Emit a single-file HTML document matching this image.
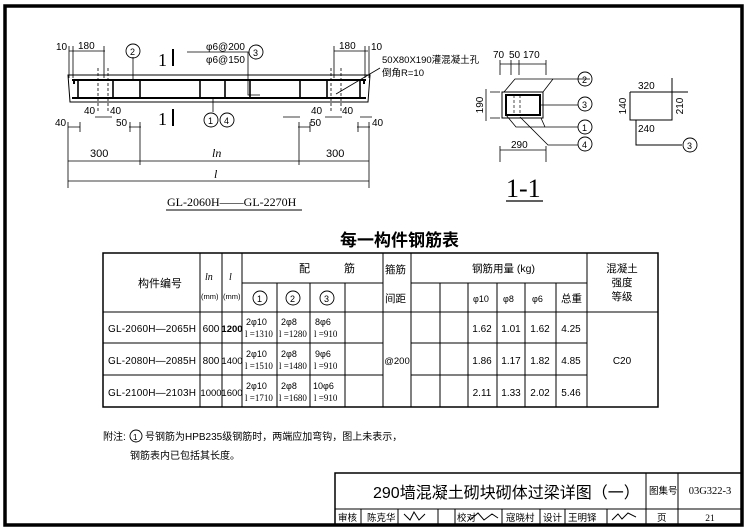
<!DOCTYPE html>
<html><head><meta charset="utf-8"><style>
html,body{margin:0;padding:0;background:#fff;}
svg{display:block;}
text{font-family:"Liberation Sans","Noto Sans CJK SC",sans-serif;fill:#000;}
.s{font-family:"Liberation Serif","Noto Serif CJK SC",serif;}
</style></head><body>
<svg width="751" height="531" viewBox="0 0 751 531" xmlns="http://www.w3.org/2000/svg">
<g fill="none" stroke="#000">
<rect x="5" y="6" width="737" height="519" stroke-width="3.5"/>

<path d="M68 75 L370 75 L368 102 L70 102 Z" stroke-width="1"/>
<path d="M72 80 H366 M72 98 H366" stroke-width="2"/>
<path d="M74 80 v4 M364 80 v4" stroke-width="2"/>
<path d="M78 80V98 M113 80V98 M140 80V98 M200 80V98 M225 80V98 M250 80V98 M300 80V98 M327 80V98 M360 80V98" stroke-width="1.6"/>
<path d="M98 68V112 M108 68V112 M331 68V112 M341 68V112" stroke-width="0.8" stroke-dasharray="3,2"/>
<path d="M133 57 L133 80" stroke-width="0.8"/>
<path d="M187 52 L248 52 L248 95 L260 95" stroke-width="0.8"/>
<path d="M213 98 L213 112" stroke-width="0.8"/>
<path d="M336 94 L380 68" stroke-width="0.8"/>
<circle cx="133" cy="51" r="7" stroke-width="0.9"/>
<circle cx="256" cy="52" r="7" stroke-width="0.9"/>
<circle cx="211" cy="120" r="7" stroke-width="0.9"/>
<circle cx="227" cy="120" r="7" stroke-width="0.9"/>
<path d="M69 51 H105 M69 46 V78 M73 46 V78 M104 46 V78" stroke-width="0.8"/>
<path d="M334 51 H368 M334 46 V78 M365 46 V78 M369 46 V78" stroke-width="0.8"/>
<path d="M95 117 H112 M283 117 H300 M325 117 H342 M360 117 H372" stroke-width="0.8"/>
<path d="M68 127 H80 M129 127 H141 M298 127 H310 M357 127 H370" stroke-width="0.8"/>
<path d="M68 122 V188 M80 122 V132 M130 122 V132 M140 122 V165 M299 122 V165 M310 122 V132 M358 122 V132 M369 122 V188" stroke-width="0.8"/>
<path d="M68 161 H369 M68 181 H369" stroke-width="0.8"/>
<path d="M166 210 H302" stroke-width="1"/>
<path d="M173 49 V66 M173 109 V126" stroke-width="2"/>

<rect x="502" y="92" width="41" height="26" stroke-width="1"/>
<rect x="506" y="95" width="34" height="20" stroke-width="2"/>
<path d="M514 95 V115 M520 95 V115" stroke-width="0.7" stroke-dasharray="3,2"/>
<path d="M504 92 L515 79 L590 79 M543 92 L553 79 M506 115 L516 127 L578 127 M541 118 L545 127 M520 117 L548 145 L578 145 M540 105 L578 105" stroke-width="0.8"/>
<path d="M490 92 H500 M490 118 H500 M486 89 V121 M500 60 V75 M511 60 V75 M519 60 V75 M546 60 V75 M500 64 H546 M500 150 H546 M500 146 V162 M546 146 V162" stroke-width="0.8"/>
<circle cx="585" cy="79" r="7" stroke-width="0.9"/>
<circle cx="585" cy="104" r="7" stroke-width="0.9"/>
<circle cx="585" cy="127" r="7" stroke-width="0.9"/>
<circle cx="585" cy="144" r="7" stroke-width="0.9"/>
<path d="M506 201 H543" stroke-width="1.2"/>
<path d="M630 92 V120 H672 V78 M630 92 H688 M636 120 V145 H682" stroke-width="1"/>
<circle cx="690" cy="145" r="7" stroke-width="0.9"/>

<rect x="103" y="253" width="555" height="154" stroke-width="1.5"/>
<path d="M103 312 H658 M103 343 H383 M411 343 H587 M103 375 H383 M411 375 H587 M242 283 H383 M411 283 H587" stroke-width="1"/>
<path d="M200 253V407 M222 253V407 M242 253V407 M277 283V407 M310 283V407 M345 283V407 M383 253V407 M411 253V407 M440 283V407 M468 283V407 M497 283V407 M525 283V407 M556 283V407 M587 253V407" stroke-width="1"/>
<circle cx="260" cy="298" r="7" stroke-width="0.9"/>
<circle cx="293" cy="298" r="7" stroke-width="0.9"/>
<circle cx="327" cy="298" r="7" stroke-width="0.9"/>
<circle cx="136" cy="436" r="6" stroke-width="0.9"/>

<rect x="335" y="473" width="407" height="52" stroke-width="1.5"/>
<path d="M335 509 H742 M646 473 V525 M678 473 V525 M361 509V525 M398 509V525 M438 509V525 M455 509V525 M502 509V525 M540 509V525 M565 509V525 M607 509V525" stroke-width="1"/>
<path d="M404 514 l6 6 l4 -8 l5 8 l6 -6 M470 520 l8 -7 l6 7 l8 -6 l6 4 M612 520 l6 -6 l4 5 l6 -6 l8 4" stroke-width="1"/>
</g>

<g font-size="10">
<text x="56" y="50">10</text><text x="78" y="49">180</text>
<text x="339" y="49">180</text><text x="371" y="50">10</text>
<text x="206" y="50">φ6@200</text><text x="206" y="63">φ6@150</text>
<text x="382" y="63" font-size="9.5">50X80X190灌混凝土孔</text>
<text x="382" y="76" font-size="9.5">倒角R=10</text>
<text x="130" y="55" font-size="9">2</text><text x="253" y="56" font-size="9">3</text>
<text x="208" y="124" font-size="9">1</text><text x="224" y="124" font-size="9">4</text>
<text x="84" y="114">40</text><text x="110" y="114">40</text>
<text x="311" y="114">40</text><text x="342" y="114">40</text>
<text x="55" y="126">40</text><text x="116" y="126">50</text>
<text x="310" y="126">50</text><text x="372" y="126">40</text>
<text x="90" y="157" font-size="11">300</text><text x="326" y="157" font-size="11">300</text>
<text x="212" y="157" font-size="12" class="s" font-style="italic">ln</text>
<text x="214" y="178" font-size="12" class="s" font-style="italic">l</text>
<text x="167" y="206" font-size="12" class="s">GL-2060H——GL-2270H</text>
<text x="158" y="66" font-size="18" class="s">1</text>
<text x="158" y="125" font-size="18" class="s">1</text>
<text x="493" y="58">70</text><text x="509" y="58">50</text><text x="523" y="58">170</text>
<text x="483" y="105" text-anchor="middle" transform="rotate(-90 483 105)">190</text>
<text x="511" y="148">290</text>
<text x="582" y="83" font-size="9">2</text><text x="582" y="108" font-size="9">3</text>
<text x="582" y="131" font-size="9">1</text><text x="582" y="148" font-size="9">4</text>
<text x="506" y="197" font-size="26" class="s">1-1</text>
<text x="638" y="89">320</text>
<text x="626" y="106" text-anchor="middle" transform="rotate(-90 626 106)">140</text>
<text x="683" y="106" text-anchor="middle" transform="rotate(-90 683 106)">210</text>
<text x="638" y="132">240</text>
<text x="687" y="149" font-size="9">3</text>

<text x="340" y="246" font-size="17" font-weight="bold">每一构件钢筋表</text>
<text x="138" y="287" font-size="11">构件编号</text>
<text x="205" y="280" class="s" font-style="italic">ln</text><text x="229" y="280" class="s" font-style="italic">l</text>
<text x="201" y="299" font-size="7.5">(mm)</text><text x="223" y="299" font-size="7.5">(mm)</text>
<text x="299" y="272" font-size="11">配</text><text x="344" y="272" font-size="11">筋</text>
<text x="385" y="273" font-size="10.5">箍筋</text><text x="385" y="302" font-size="10.5">间距</text>
<text x="472" y="272" font-size="10.5">钢筋用量 (kg)</text>
<text x="622" y="272" font-size="10.5" text-anchor="middle">混凝土</text>
<text x="622" y="286" font-size="10.5" text-anchor="middle">强度</text>
<text x="622" y="300" font-size="10.5" text-anchor="middle">等级</text>
<text x="257" y="302" font-size="9">1</text><text x="290" y="302" font-size="9">2</text><text x="324" y="302" font-size="9">3</text>
<text x="473" y="302" font-size="9">φ10</text><text x="503" y="302" font-size="9">φ8</text><text x="532" y="302" font-size="9">φ6</text>
<text x="561" y="302" font-size="10.5">总重</text>
<g class="s" font-size="10">
<text x="108" y="332" textLength="88">GL-2060H—2065H</text>
<text x="108" y="364" textLength="88">GL-2080H—2085H</text>
<text x="108" y="396" textLength="88">GL-2100H—2103H</text>
<text x="211" y="332" text-anchor="middle">600</text><text x="232" y="332" font-weight="bold" text-anchor="middle" font-size="9.5">1200</text>
<text x="211" y="364" text-anchor="middle">800</text><text x="232" y="364" text-anchor="middle" font-size="9.5">1400</text>
<text x="211" y="396" text-anchor="middle" font-size="9.5">1000</text><text x="232" y="396" text-anchor="middle" font-size="9.5">1600</text>
<text x="482" y="332" text-anchor="middle">1.62</text><text x="511" y="332" text-anchor="middle">1.01</text><text x="540" y="332" text-anchor="middle">1.62</text><text x="571" y="332" text-anchor="middle">4.25</text>
<text x="482" y="364" text-anchor="middle">1.86</text><text x="511" y="364" text-anchor="middle">1.17</text><text x="540" y="364" text-anchor="middle">1.82</text><text x="571" y="364" text-anchor="middle">4.85</text>
<text x="482" y="396" text-anchor="middle">2.11</text><text x="511" y="396" text-anchor="middle">1.33</text><text x="540" y="396" text-anchor="middle">2.02</text><text x="571" y="396" text-anchor="middle">5.46</text>
<text x="622" y="364" text-anchor="middle">C20</text>
</g>
<g font-size="9">
<text x="246" y="325">2φ10</text><text x="245" y="337" class="s">l =1310</text>
<text x="281" y="325">2φ8</text><text x="279" y="337" class="s">l =1280</text>
<text x="315" y="325">8φ6</text><text x="314" y="337" class="s">l =910</text>
<text x="246" y="357">2φ10</text><text x="245" y="369" class="s">l =1510</text>
<text x="281" y="357">2φ8</text><text x="279" y="369" class="s">l =1480</text>
<text x="315" y="357">9φ6</text><text x="314" y="369" class="s">l =910</text>
<text x="246" y="389">2φ10</text><text x="245" y="401" class="s">l =1710</text>
<text x="281" y="389">2φ8</text><text x="279" y="401" class="s">l =1680</text>
<text x="313" y="389">10φ6</text><text x="314" y="401" class="s">l =910</text>
<text x="397" y="364" font-size="9.5" text-anchor="middle">@200</text>
</g>

<text x="103" y="440" font-size="10">附注:</text>
<text x="133" y="440" font-size="8">1</text>
<text x="145" y="440" font-size="10">号钢筋为HPB235级钢筋时，两端应加弯钩，图上未表示，</text>
<text x="130" y="459" font-size="10">钢筋表内已包括其长度。</text>

<text x="373" y="498" font-size="16">290墙混凝土砌块砌体过梁详图（一）</text>
<text x="649" y="494" font-size="9.5">图集号</text>
<text x="710" y="494" font-size="10.5" class="s" text-anchor="middle">03G322-3</text>
<g font-size="9.5">
<text x="338" y="521">审核</text><text x="367" y="521">陈克华</text>
<text x="457" y="521">校对</text><text x="506" y="521">寇晓村</text>
<text x="543" y="521">设计</text><text x="568" y="521">王明铎</text>
<text x="657" y="521">页</text><text x="710" y="521" class="s" text-anchor="middle">21</text>
</g>
</g>
</svg>
</body></html>
